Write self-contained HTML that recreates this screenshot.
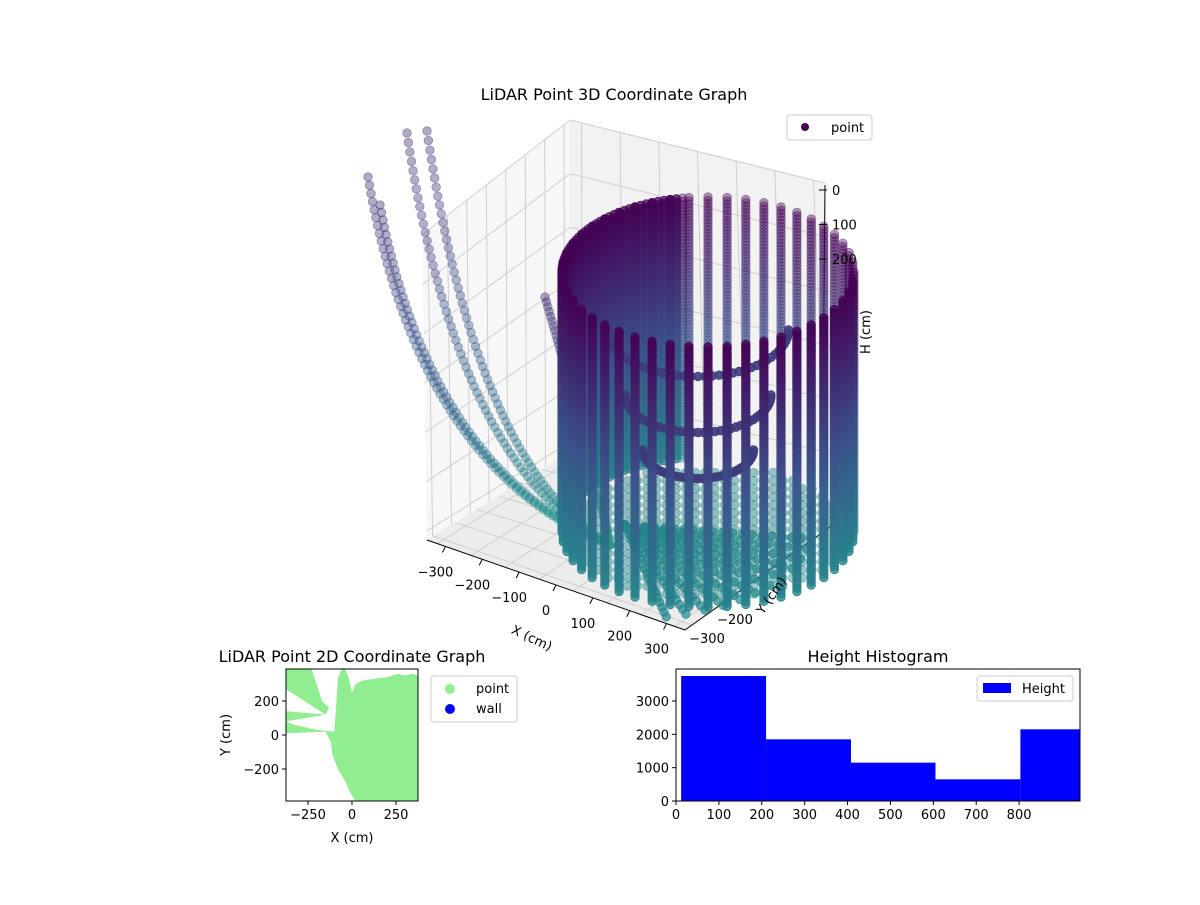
<!DOCTYPE html>
<html><head><meta charset="utf-8">
<style>
html,body{margin:0;padding:0;background:#fff;}
svg text{font-family:"DejaVu Sans","Liberation Sans",sans-serif;fill:#000;}
</style></head>
<body>
<svg id="fig" width="1200" height="900" viewBox="0 0 1200 900" xmlns="http://www.w3.org/2000/svg">
<rect width="1200" height="900" fill="#fff"/>
<g id="ax3d"></g>
<g id="pts3d"></g>
<g id="ax3dlabels"></g>
<text x="614" y="100" font-size="16" text-anchor="middle">LiDAR Point 3D Coordinate Graph</text>
<g>
<rect x="787" y="115" width="85" height="25" rx="3" fill="#fff" stroke="#ccc"/>
<circle cx="805" cy="127" r="4" fill="#440154"/>
<text x="831" y="132" font-size="13">point</text>
</g>
<g id="ax2d"></g>
<g id="hist"></g>
</svg>
<script>
// ---------- histogram data ----------
const histEdges = [12, 210, 408, 605, 803, 1000];
const histCounts = [3750, 1850, 1150, 650, 2150];
const histXTicks = [0,100,200,300,400,500,600,700,800];
const histYTicks = [0,1000,2000,3000];
// ---------- 2D scatter data (outline of point cloud, cm) ----------
const cloudX = [-375,-375,-150,-375,-375,-330,-200,-100,-80,-60,-40,-20,0,20,60,120,200,260,300,340,375,375,20,-10,-40,-80,-110,-120,-150,-375,-375,-150,-130,-170,-230,-375,-375];
const cloudY = [220,270,120,140,80,60,30,20,330,388,388,340,250,300,320,330,340,360,350,360,350,-388,-388,-340,-270,-200,-120,-40,20,10,80,120,160,200,388,388,220];
const x2Ticks = [-250,0,250];
const y2Ticks = [-200,0,200];
// ---------- 3D data ----------
const wallAngles = [];
for (let i=0;i<48;i++) wallAngles.push(i*7.5);
for (let a=182.5;a<262;a+=2.5) wallAngles.push(a);
const wallTopH = 0, wallBottomH = 880;
const strandStartsX = [368,380,407,427,545];
const strandStartsY = [177,205,133,131,297];
const xTicks3 = [-300,-200,-100,0,100,200,300];
const hTicks3 = [0,100,200];

const NS="http://www.w3.org/2000/svg";
function el(tag,attrs,parent){const e=document.createElementNS(NS,tag);for(const k in attrs)e.setAttribute(k,attrs[k]);parent.appendChild(e);return e;}
function txt(s,x,y,size,anchor,parent,name,rot){const t=el('text',{x:x,y:y,'font-size':size,'text-anchor':anchor||'middle'},parent);t.textContent=s;


if(rot!==undefined)t.setAttribute('transform',`rotate(${rot} ${x} ${y})`);return t;}

const vs=[[68,1,84],[59,82,139],[33,145,140],[94,201,98],[253,231,37]];
function vir(t){t=Math.max(0,Math.min(1,t));const s=t*4,i=Math.min(3,Math.floor(s)),f=s-i;
return `rgb(${vs[i].map((c,k)=>Math.round(c+(vs[i+1][k]-c)*f)).join(',')})`;}

// ---------- 3D axes panes ----------
const ax3=document.getElementById('ax3d');
const A=[422,235],B=[570,120],C=[825,183],A2=[427,540],B2=[570,452],C2=[840,520],D2=[685,630];
function poly(pts,fill,name){const p=el('polygon',{points:pts.map(p=>p.join(',')).join(' '),fill:fill,stroke:'none'},ax3);

}
poly([A,B,B2,A2],'#f7f7f7','left-pane');
poly([B,C,C2,B2],'#f2f2f2','right-pane');
poly([A2,B2,C2,D2],'#ececec','floor-pane');
function lerp(p,q,t){return [p[0]+(q[0]-p[0])*t,p[1]+(q[1]-p[1])*t];}
function line(p,q,col,w,name){const l=el('line',{x1:p[0],y1:p[1],x2:q[0],y2:q[1],stroke:col,'stroke-width':w},ax3);

}
for(let i=0;i<=6;i++){const t=i/6;
 line(lerp(A,A2,t*0.97),lerp(B,B2,t*0.97),'#cfcfcf',1,'grid-line');
 line(lerp(B,B2,t*0.97),lerp(C,C2,t*0.97),'#cfcfcf',1,'grid-line');}
for(let i=0;i<=7;i++){const t=(i+0.3)/7.6;
 line(lerp(A,B,t),lerp(A2,B2,t),'#cfcfcf',1,'grid-line');
 line(lerp(A2,D2,t),lerp(B2,C2,t),'#cfcfcf',1,'grid-line');}
for(let i=0;i<=6;i++){const t=(i+0.3)/6.6;
 line(lerp(B,C,t),lerp(B2,C2,t),'#cfcfcf',1,'grid-line');
 line(lerp(A2,B2,t),lerp(D2,C2,t),'#cfcfcf',1,'grid-line');}
line(A2,D2,'#000',1,'x-axis-line');
line(D2,C2,'#000',1,'y-axis-line');
line([825,185],[822,520],'#000',1,'h-axis-line');

// ---------- 3D points ----------
const P=document.getElementById('pts3d');
const cx=708, topY=272, botY=532, rx=146, ry=75;
const hScale=(botY-topY)/(wallBottomH-wallTopH);
function dot(x,y,c,op,name){const d=el('circle',{cx:x.toFixed(1),cy:y.toFixed(1),r:4.3,fill:c,'fill-opacity':op,stroke:c,'stroke-opacity':Math.min(1,op*1.1),'stroke-width':0.8},P);

}
// strands
strandStartsX.forEach((sx,i)=>{
 const start=[sx,strandStartsY[i]];
 const end=[610,545], ctrl=[start[0]+50,470];
 for(let k=0;k<=70;k++){const t=k/70;
  const x=(1-t)*(1-t)*start[0]+2*(1-t)*t*ctrl[0]+t*t*end[0];
  const y=(1-t)*(1-t)*start[1]+2*(1-t)*t*ctrl[1]+t*t*end[1];
  dot(x,y,vir(0.12+t*0.45),0.4,'strand-point');}
});
// floor disc
for(let gx=-1;gx<=1;gx+=0.07)for(let gy=-1;gy<=1;gy+=0.12){if(gx*gx+gy*gy>1)continue;
 dot(cx+gx*rx*0.95,botY+gy*ry*0.9,vir(0.47),0.45,'floor-point');}
// back wall first
const wallOrder=wallAngles.slice().sort((a,b)=>Math.sin(a*Math.PI/180)-Math.sin(b*Math.PI/180));
function drawWall(a){
 const th=a*Math.PI/180, x=cx+rx*Math.cos(th), yo=ry*Math.sin(th);
 const front=Math.sin(th)>0;
 const backLeft=!front && Math.cos(th)<-0.2;
 for(let h=wallTopH;h<=wallBottomH;h+=11){
  const y=topY+yo+h*hScale;
  dot(x,y,vir(0.0+0.44*h/wallBottomH),front?0.8:(backLeft?0.75:0.4),'wall-point');}
}
wallOrder.filter(a=>Math.sin(a*Math.PI/180)<=0).forEach(drawWall);
// floor fan
for(let f=0;f<12;f++){const ang=(f/11)*1.2+0.15;
 for(let k=0;k<20;k++){const r=k*9;dot(625+r*Math.cos(ang)*1.1,525+r*Math.sin(ang)*0.55,vir(0.46),0.7,'floor-point');}}
// inner arcs
[[0.62,330],[0.5,395],[0.38,450]].forEach(([sc,yy])=>{
 for(let k=0;k<=40;k++){const th=Math.PI*k/40;dot(cx-10+rx*sc*Math.cos(th),yy+ry*sc*Math.sin(th),vir(0.18),0.9,'inner-arc-point');}});
wallOrder.filter(a=>Math.sin(a*Math.PI/180)>0).forEach(drawWall);
// ---------- 3D tick labels ----------
const L=document.getElementById('ax3dlabels');
xTicks3.forEach((v,i)=>{const t=(v+350)/700;const p=lerp(A2,D2,t);
 const tk=el('line',{x1:p[0],y1:p[1],x2:p[0]-3,y2:p[1]+6,stroke:'#000'},L);
 
 
 txt(String(v).replace('-','\u2212'),p[0]-10,p[1]+30,13,'middle',L,'x-tick-label');});
txt('X (cm)',530,642,13,'middle',L,'x-axis-title',25);
txt('\u2212300',707,643,13,'middle',L,'y-tick-label');
txt('\u2212200',735,624,13,'middle',L,'y-tick-label');
txt('Y (cm)',775,598,13,'middle',L,'y-axis-title',-55);
hTicks3.forEach((v,i)=>{const y=191+i*34.5;
 const tk=el('line',{x1:819,y1:y-1,x2:827,y2:y-1,stroke:'#000'},L);
 
 
 txt(String(v),832,y+4,13,'start',L,'h-tick-label');});
txt('H (cm)',870,332,13,'middle',L,'h-axis-title',-90);

// ---------- 2D chart ----------
const G2=document.getElementById('ax2d');
const x0=286,x1=418,y0=669,y1=801;
const sx2=v=>x0+(v+375)/750*(x1-x0), sy2=v=>y1-(v+388)/776*(y1-y0);
const cp=el('clipPath',{id:'c2'},G2);el('rect',{x:x0,y:y0,width:x1-x0,height:y1-y0},cp);
const poly2=el('polygon',{points:cloudX.map((x,i)=>sx2(x)+','+sy2(cloudY[i])).join(' '),fill:'#90ee90','clip-path':'url(#c2)'},G2);


const fr=el('rect',{x:x0,y:y0,width:x1-x0,height:y1-y0,fill:'none',stroke:'#000'},G2);


x2Ticks.forEach(v=>{const x=sx2(v);el('line',{x1:x,y1:y1,x2:x,y2:y1+4,stroke:'#000'},G2);txt(String(v).replace('-','\u2212'),x,y1+18,13,'middle',G2,'2d-x-tick-label');});
y2Ticks.forEach(v=>{const y=sy2(v);el('line',{x1:x0,y1:y,x2:x0-4,y2:y,stroke:'#000'},G2);txt(String(v).replace('-','\u2212'),x0-7,y+5,13,'end',G2,'2d-y-tick-label');});
txt('X (cm)',352,842,13,'middle',G2,'2d-x-axis-title');
txt('Y (cm)',230,735,13,'middle',G2,'2d-y-axis-title',-90);
txt('LiDAR Point 2D Coordinate Graph',352,662,16,'middle',G2,'2d-chart-title');
const lg=el('g',{},G2);
el('rect',{x:431,y:676,width:86,height:46,rx:3,fill:'#fff',stroke:'#ccc'},lg);
el('circle',{cx:450,cy:689,r:5,fill:'#90ee90'},lg);txt('point',476,693,13,'start',lg,'legend-entry-point');
el('circle',{cx:450,cy:709,r:5,fill:'#0000ff'},lg);txt('wall',476,713,13,'start',lg,'legend-entry-wall');

// ---------- histogram ----------
const H=document.getElementById('hist');
const hx0=676,hx1=1080,hy0=669,hy1=801,xmax=942,ymax=3960;
const hsx=v=>hx0+v/xmax*(hx1-hx0), hsy=v=>hy1-v/ymax*(hy1-hy0);
const hcp=el('clipPath',{id:'ch'},H);el('rect',{x:hx0,y:hy0,width:hx1-hx0,height:hy1-hy0},hcp);
const bars=el('g',{'clip-path':'url(#ch)'},H);


histCounts.forEach((c,i)=>{const r=el('rect',{x:hsx(histEdges[i]),y:hsy(c),width:hsx(histEdges[i+1])-hsx(histEdges[i]),height:hy1-hsy(c),fill:'#0000ff'},bars);
 
 });
const hf=el('rect',{x:hx0,y:hy0,width:hx1-hx0,height:hy1-hy0,fill:'none',stroke:'#000'},H);


histXTicks.forEach(v=>{const x=hsx(v);el('line',{x1:x,y1:hy1,x2:x,y2:hy1+4,stroke:'#000'},H);txt(String(v),x,hy1+18,13,'middle',H,'hist-x-tick-label');});
histYTicks.forEach(v=>{const y=hsy(v);el('line',{x1:hx0,y1:y,x2:hx0-4,y2:y,stroke:'#000'},H);txt(String(v),hx0-7,y+5,13,'end',H,'hist-y-tick-label');});
txt('Height Histogram',878,662,16,'middle',H,'histogram-title');
const hl=el('g',{},H);
el('rect',{x:977,y:676,width:96,height:25,rx:3,fill:'#fff',stroke:'#ccc'},hl);
el('rect',{x:983,y:683,width:28,height:10,fill:'#0000ff'},hl);
txt('Height',1022,693,13,'start',hl,'legend-entry-height');
</script>
</body></html>
